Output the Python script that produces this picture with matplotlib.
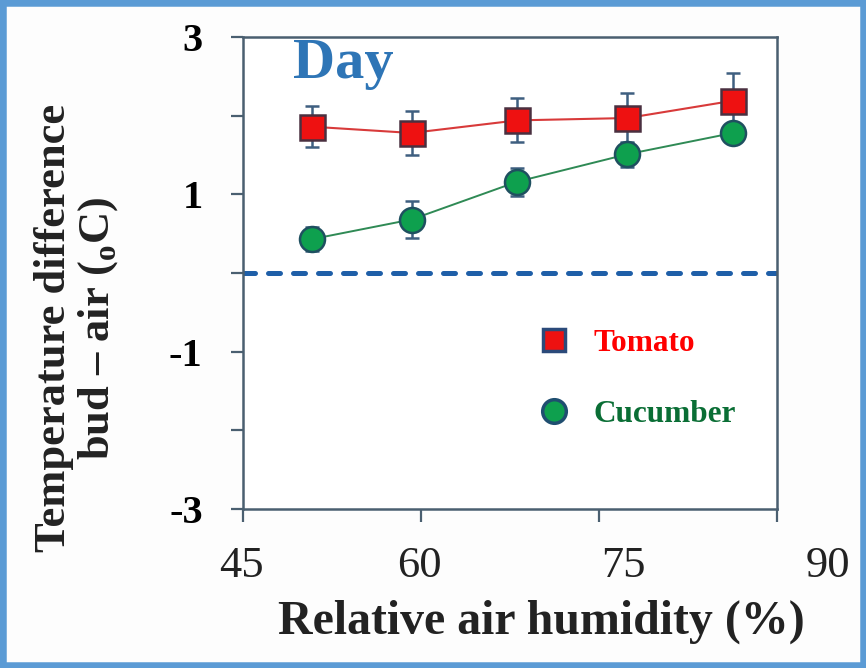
import matplotlib
matplotlib.use("Agg")
import matplotlib.pyplot as plt
from matplotlib.lines import Line2D
from matplotlib.patches import Rectangle
from matplotlib.transforms import blended_transform_factory, ScaledTranslation

# Humidite relative (%) et ecart de temperature bourgeon - air (degC)
humidity = [50.8, 59.2, 68.1, 77.4, 86.3]
tomato = [1.86, 1.78, 1.94, 1.97, 2.19]
tomato_err = [0.26, 0.28, 0.28, 0.32, 0.35]
cucumber = [0.43, 0.68, 1.16, 1.51, 1.78]
cucumber_err = [0.15, 0.23, 0.18, 0.16, 0.10]

x_ticks = [45, 60, 75, 90]
y_ticks = [-3, -2, -1, 0, 1, 2, 3]

plt.rcParams["font.family"] = ["Liberation Serif", "DejaVu Serif"]
plt.rcParams["mathtext.fontset"] = "custom"
plt.rcParams["mathtext.rm"] = "Liberation Serif:bold"
plt.rcParams["mathtext.bf"] = "Liberation Serif:bold"

spine_col = "#4a5f70"
err_col = "#3e5f80"

fig = plt.figure(figsize=(8.66, 6.68), dpi=100)
fig.patch.set_facecolor("#fdfdfd")

# cadre bleu autour de la figure
fig.patches.append(Rectangle((0, 0), 1, 1, transform=fig.transFigure,
                             fill=False, edgecolor="#5b9bd5", linewidth=9))

ax = fig.add_axes([243 / 866, 1 - 509 / 668, 534 / 866, 472 / 668])
ax.set_facecolor("white")

# ligne de reference a zero
ax.axhline(0, color="#1f5fa8", linewidth=3.6, dashes=(2.4, 2.6),
           dash_capstyle="round", zorder=2)

ax.errorbar(humidity, tomato, yerr=tomato_err, color="#d83a3a", linewidth=1.5,
            marker="s", markersize=18, markerfacecolor="#ee1111",
            markeredgecolor="#4a3040", markeredgewidth=1.8,
            ecolor=err_col, elinewidth=1.8, capsize=5, capthick=1.8, zorder=3)
ax.errorbar(humidity, cucumber, yerr=cucumber_err, color="#2f8a55", linewidth=1.4,
            marker="o", markersize=18, markerfacecolor="#0ea04e",
            markeredgecolor="#1f5060", markeredgewidth=1.8,
            ecolor=err_col, elinewidth=1.8, capsize=5, capthick=1.8, zorder=4)

ax.set_xlim(45, 90)
ax.set_ylim(-3, 3)
ax.set_xticks(x_ticks)
ax.set_xticklabels([])
ax.set_yticks(y_ticks)
ax.set_yticklabels([str(v) if v % 2 else "" for v in y_ticks],
                   fontsize=29, fontweight="bold")
ax.tick_params(axis="both", direction="out", length=9, width=1.6, color=spine_col)
ax.tick_params(axis="y", pad=20)
for s in ax.spines.values():
    s.set_color(spine_col)
    s.set_linewidth(1.8)

# etiquettes de l'axe x, decalees comme sur la figure d'origine
x_shift = [-2, -2, 24, 51]
trans = blended_transform_factory(ax.transData, ax.transAxes)
for v, dx in zip(x_ticks, x_shift):
    ax.text(v, 0, str(v), fontsize=32, ha="center", va="top", color="#222222",
            transform=trans + ScaledTranslation(dx / 100, -37 / 100, fig.dpi_scale_trans))

fig.text(541 / 866, 1 - 622 / 668, "Relative air humidity (%)", fontsize=34.5,
         fontweight="bold", ha="center", va="center", color="#222222")
fig.text(77 / 866, 1 - 328 / 668,
         "Temperature difference\nbud \u2013 air ($_{\\mathrm{o}}$C)",
         fontsize=32, fontweight="bold", rotation=90, ha="center", va="center",
         multialignment="center", linespacing=1.08, color="#222222")

fig.text(293 / 866, 1 - 78 / 668, "Day", fontsize=42, fontweight="bold",
         color="#2e75b6", ha="left", va="baseline")

# legende
handles = [
    Line2D([], [], linestyle="none", marker="s", markersize=16,
           markerfacecolor="#ee1111", markeredgecolor="#2b4a7a", markeredgewidth=2.5),
    Line2D([], [], linestyle="none", marker="o", markersize=17,
           markerfacecolor="#0ea04e", markeredgecolor="#1f4e70", markeredgewidth=2.5),
]
leg = ax.legend(handles, ["Tomato", "Cucumber"], loc="center left",
                bbox_to_anchor=(0.524, 0.276), frameon=False, borderpad=0,
                handlelength=1.0, handletextpad=0.75, labelspacing=1.35,
                prop={"family": "Liberation Serif", "weight": "bold", "size": 22.5})
for txt, c in zip(leg.get_texts(), ["#ff0000", "#0a6e35"]):
    txt.set_color(c)

fig.savefig("out.png", dpi=100, facecolor=fig.get_facecolor())
